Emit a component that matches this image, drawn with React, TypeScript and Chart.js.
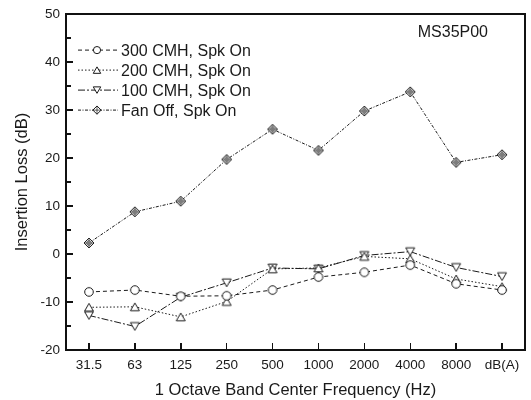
import React, { useEffect, useRef, useState } from 'react';
import { Chart, registerables } from 'chart.js';

Chart.register(...registerables);

const categories = ['31.5', '63', '125', '250', '500', '1000', '2000', '4000', '8000', 'dB(A)'];
const cmh300 = [-7.9, -7.5, -8.8, -8.7, -7.5, -4.8, -3.8, -2.3, -6.2, -7.5];
const cmh200 = [-11.1, -11.0, -13.1, -9.9, -3.1, -2.9, -0.5, -1.0, -5.2, -6.8];
const cmh100 = [-12.8, -15.1, -9.0, -6.0, -2.9, -3.1, -0.3, 0.5, -2.8, -4.7];
const fanOff = [2.3, 8.8, 11.0, 19.7, 26.0, 21.6, 29.8, 33.8, 19.1, 20.7];
const seriesLabels = ['300 CMH, Spk On', '200 CMH, Spk On', '100 CMH, Spk On', 'Fan Off, Spk On'];
const markerKinds = ['circle', 'up', 'down', 'diamondCross'];
const dashes = [[4, 3], [1.5, 2], [7, 2, 2, 2], [3, 1.5, 1, 1.5]];
const annotation = 'MS35P00';
const yMin = -20;
const yMax = 50;
const yStep = 5;
const xTitle = '1 Octave Band Center Frequency (Hz)';
const yTitle = 'Insertion Loss (dB)';

const INK = '#1a1a1a';
const FONT = "'Liberation Sans', Arial, Helvetica, sans-serif";

type Geom = {
  left: number;
  top: number;
  right: number;
  bottom: number;
  yTicks: { p: number; major: boolean }[];
  xTicks: number[];
};

function drawMarker(ctx: CanvasRenderingContext2D, kind: string, x: number, y: number, r: number, legend: boolean) {
  ctx.save();
  ctx.setLineDash([]);
  ctx.fillStyle = '#ffffff';
  ctx.strokeStyle = INK;
  ctx.lineWidth = 1;
  ctx.beginPath();
  if (kind === 'circle') {
    ctx.arc(x, y, r, 0, Math.PI * 2);
  } else if (kind === 'up' || kind === 'down') {
    const R = r * 1.2;
    const s = kind === 'up' ? 1 : -1;
    for (let i = 0; i < 3; i++) {
      const a = -Math.PI / 2 + (i * 2 * Math.PI) / 3;
      const px = x + Math.cos(a) * R;
      const py = y + s * (Math.sin(a) * R + R * 0.25);
      if (i === 0) ctx.moveTo(px, py);
      else ctx.lineTo(px, py);
    }
    ctx.closePath();
  } else {
    const R = r * 1.15;
    ctx.moveTo(x, y - R);
    ctx.lineTo(x + R, y);
    ctx.lineTo(x, y + R);
    ctx.lineTo(x - R, y);
    ctx.closePath();
  }
  ctx.fill();
  ctx.stroke();
  if (kind === 'diamondCross') {
    const R = r * 1.15;
    ctx.lineWidth = 0.7;
    ctx.beginPath();
    ctx.moveTo(x, y - R);
    ctx.lineTo(x, y + R);
    ctx.moveTo(x - R, y);
    ctx.lineTo(x + R, y);
    ctx.stroke();
    if (!legend) {
      ctx.beginPath();
      ctx.arc(x, y, R * 0.45, 0, Math.PI * 2);
      ctx.stroke();
    }
  }
  ctx.restore();
}

function makeMarkerCanvas(kind: string, r: number): HTMLCanvasElement {
  const size = Math.ceil(r * 2.6) + 4;
  const c = document.createElement('canvas');
  c.width = size;
  c.height = size;
  const ctx = c.getContext('2d')!;
  drawMarker(ctx, kind, size / 2, size / 2, r, false);
  return c;
}

const legendPlugin = {
  id: 'legendPlugin',
  afterDraw(chart: any) {
    const ctx: CanvasRenderingContext2D = chart.ctx;
    const { left, right, top } = chart.chartArea;
    ctx.save();
    ctx.fillStyle = INK;
    ctx.font = `16px ${FONT}`;
    ctx.textAlign = 'right';
    ctx.textBaseline = 'middle';
    ctx.fillText(annotation, right - 37, top + 18);
    const lx0 = left + 12;
    const lx1 = left + 52;
    const mx = left + 31;
    const tx = left + 55;
    seriesLabels.forEach((label, i) => {
      const y = top + 36 + i * 20;
      ctx.save();
      ctx.lineWidth = 1;
      ctx.strokeStyle = INK;
      ctx.setLineDash(dashes[i]);
      ctx.beginPath();
      ctx.moveTo(lx0, y);
      ctx.lineTo(lx1, y);
      ctx.stroke();
      ctx.restore();
      drawMarker(ctx, markerKinds[i], mx, y, 3.6, true);
      ctx.fillStyle = INK;
      ctx.font = `16px ${FONT}`;
      ctx.textAlign = 'left';
      ctx.textBaseline = 'middle';
      ctx.fillText(label, tx, y + 1);
    });
    ctx.restore();
  },
};

export default function App() {
  const canvasRef = useRef<HTMLCanvasElement | null>(null);
  const [geom, setGeom] = useState<Geom | null>(null);

  useEffect(() => {
    const canvas = canvasRef.current;
    if (!canvas) return;
    const seriesData = [cmh300, cmh200, cmh100, fanOff];
    const datasets = seriesData.map((d, i) => ({
      label: seriesLabels[i],
      data: d,
      borderColor: INK,
      borderWidth: 1,
      borderDash: dashes[i],
      pointStyle: makeMarkerCanvas(markerKinds[i], 4.3) as any,
      pointRadius: 5,
      pointHoverRadius: 5,
      fill: false,
      tension: 0,
    }));
    const chart = new Chart(canvas, {
      type: 'line',
      data: { labels: categories, datasets },
      options: {
        responsive: false,
        animation: false,
        layout: { padding: { top: 14, right: 6, left: 0, bottom: 0 } },
        plugins: {
          legend: { display: false },
          tooltip: { enabled: false },
        },
        scales: {
          x: {
            type: 'category',
            offset: true,
            grid: { display: false, drawTicks: false },
            border: { display: false },
            ticks: {
              color: INK,
              font: { family: FONT, size: 13.5 },
              padding: 7,
              maxRotation: 0,
              autoSkip: false,
            },
            title: {
              display: true,
              text: xTitle,
              color: INK,
              font: { family: FONT, size: 16.5 },
              padding: { top: 0, bottom: 0 },
            },
            afterFit: (scale: any) => {
              scale.height = 50;
            },
          },
          y: {
            type: 'linear',
            min: yMin,
            max: yMax,
            grid: { display: false, drawTicks: false },
            border: { display: false },
            ticks: {
              stepSize: yStep,
              color: INK,
              font: { family: FONT, size: 13.5 },
              padding: 6,
              autoSkip: false,
              callback: (v: any) => (Number(v) % 10 === 0 ? String(v) : ''),
            },
            title: {
              display: true,
              text: yTitle,
              color: INK,
              font: { family: FONT, size: 16.5 },
              padding: { top: 13, bottom: 0 },
            },
            afterFit: (scale: any) => {
              scale.width = 66;
            },
          },
        },
      },
      plugins: [legendPlugin],
    });
    const area = chart.chartArea;
    const ys: any = chart.scales.y;
    const xs: any = chart.scales.x;
    const yTicks: { p: number; major: boolean }[] = [];
    for (let v = yMin; v <= yMax; v += yStep) {
      yTicks.push({ p: ys.getPixelForValue(v), major: v % 10 === 0 });
    }
    const xTicks = categories.map((_c, i) => xs.getPixelForValue(i));
    setGeom({ left: area.left, top: area.top, right: area.right, bottom: area.bottom, yTicks, xTicks });
    return () => chart.destroy();
  }, []);

  return (
    <div style={{ position: 'absolute', left: 0, top: 0, width: 531, height: 400, background: '#fff' }}>
      <canvas ref={canvasRef} width={531} height={400} style={{ display: 'block', position: 'absolute', left: 0, top: 0 }} />
      {geom && (
        <div style={{ position: 'absolute', left: 0, top: 0, width: 531, height: 400, pointerEvents: 'none' }}>
          <div
            style={{
              position: 'absolute',
              boxSizing: 'border-box',
              left: geom.left - 1,
              top: geom.top - 1,
              width: geom.right - geom.left + 2,
              height: geom.bottom - geom.top + 2,
              border: '2px solid #111',
            }}
          />
          {geom.yTicks.map((t, i) => (
            <div
              key={'y' + i}
              style={{
                position: 'absolute',
                left: geom.left,
                top: t.p - 0.75,
                width: t.major ? 7 : 5,
                height: 1.5,
                background: '#111',
              }}
            />
          ))}
          {geom.xTicks.map((p, i) => (
            <div
              key={'x' + i}
              style={{
                position: 'absolute',
                left: p - 0.75,
                top: geom.bottom - 7,
                width: 1.5,
                height: 7,
                background: '#111',
              }}
            />
          ))}
        </div>
      )}
    </div>
  );
}
